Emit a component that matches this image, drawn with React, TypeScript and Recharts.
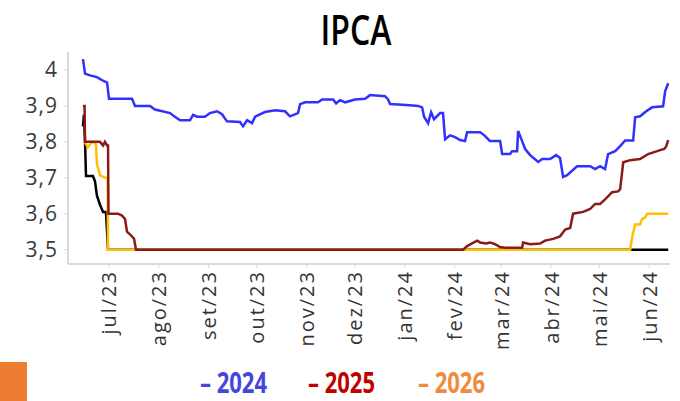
import { LineChart, Line, XAxis, YAxis } from 'recharts'

// x = days since 1 Jul 2023
const monthTicks = [0, 31, 62, 92, 123, 153, 184, 215, 244, 275, 305, 336]
const monthLabels = ['jul/23', 'ago/23', 'set/23', 'out/23', 'nov/23', 'dez/23', 'jan/24', 'fev/24', 'mar/24', 'abr/24', 'mai/24', 'jun/24']
const yTicks = [3.5, 3.6, 3.7, 3.8, 3.9, 4]

const ipca2024: [number, number][] = [
  [-16.2, 4.03], [-14.9, 3.99], [-11.8, 3.985], [-7.5, 3.98], [-3.7, 3.97], [-1.2, 3.965], [0, 3.92], [14.3, 3.92],
  [16.2, 3.9], [25.5, 3.9], [28.6, 3.89], [38, 3.88], [41, 3.87], [44.2, 3.86], [48.5, 3.86], [50.4, 3.86],
  [52.3, 3.875], [54.8, 3.87], [59.7, 3.87], [62.8, 3.88], [67.2, 3.885], [70.3, 3.877], [73.4, 3.857], [81.5, 3.855],
  [83.4, 3.843], [85.9, 3.86], [89, 3.852], [90.9, 3.87], [97, 3.883], [103.3, 3.888], [109.5, 3.885], [112.6, 3.871],
  [117.6, 3.88], [118.9, 3.905], [122, 3.91], [130, 3.91], [132.6, 3.918], [139.4, 3.918], [141.3, 3.907], [143.7, 3.916],
  [146.9, 3.91], [153, 3.918], [159.3, 3.92], [162.4, 3.93], [171.7, 3.927], [173.6, 3.918], [174.9, 3.905], [187.3, 3.902],
  [192.3, 3.9], [194.8, 3.896], [196, 3.87], [198.5, 3.852], [200.4, 3.882], [202.2, 3.863], [206, 3.88], [207.8, 3.88],
  [209.1, 3.807], [212.2, 3.818], [215.3, 3.813], [218.4, 3.805], [221.5, 3.802], [222.8, 3.827], [230.9, 3.827], [234, 3.816],
  [237, 3.802], [243.3, 3.802], [244.6, 3.766], [249.5, 3.766], [250.8, 3.774], [253.9, 3.774], [254.5, 3.83], [257, 3.802],
  [258.9, 3.78], [262, 3.763], [267, 3.744], [269.5, 3.752], [274.4, 3.752], [278.2, 3.763], [280.6, 3.755], [282.5, 3.702],
  [285, 3.707], [291.2, 3.732], [299.3, 3.732], [302.4, 3.724], [305.5, 3.732], [308.6, 3.724], [310.5, 3.766], [314.9, 3.774],
  [318, 3.788], [321.1, 3.804], [326.1, 3.804], [327.3, 3.868], [330.4, 3.871], [334.2, 3.885], [337.9, 3.896], [344.7, 3.899],
  [346, 3.941], [347.9, 3.963],
]

const ipca2025: [number, number][] = [
  [-16.2, 3.9], [-15.2, 3.9], [-14.9, 3.8], [-5.6, 3.8], [-3.7, 3.79], [-2.5, 3.8], [-1.2, 3.79], [-0.6, 3.79],
  [-0.3, 3.6], [5.6, 3.6], [8.1, 3.595], [10, 3.585], [11.2, 3.55], [13.7, 3.54], [15.6, 3.53], [16.8, 3.5],
  [220.3, 3.5], [222.8, 3.51], [229, 3.525], [230.9, 3.52], [234.6, 3.517], [237.1, 3.52], [240.2, 3.515], [243.3, 3.507],
  [246.4, 3.505], [257, 3.505], [257.6, 3.52], [262, 3.515], [268.2, 3.517], [271.3, 3.525], [276.3, 3.53], [280.6, 3.537],
  [283.8, 3.556], [286.9, 3.56], [288.7, 3.6], [295, 3.605], [299.3, 3.613], [302.4, 3.627], [305.5, 3.627], [308.6, 3.64],
  [313, 3.66], [316.7, 3.662], [318, 3.668], [319.9, 3.743], [324.2, 3.749], [330.4, 3.752], [335.4, 3.766], [342.9, 3.777],
  [345.4, 3.78], [346.6, 3.787], [347.9, 3.805],
]

const ipca2026: [number, number][] = [
  [-15.2, 3.8], [-13.1, 3.785], [-11.8, 3.793], [-10, 3.8], [-8.1, 3.793], [-7.5, 3.738], [-5.6, 3.707], [-2.5, 3.7],
  [-0.9, 3.7], [-0.6, 3.5], [324.2, 3.5], [325.5, 3.535], [327.3, 3.57], [330.4, 3.57], [331.6, 3.585], [333.6, 3.59],
  [334.8, 3.6], [347.9, 3.6],
]

const ipca2027: [number, number][] = [
  [-16.2, 3.843], [-15.6, 3.875], [-14.9, 3.8], [-14.3, 3.705], [-10, 3.705], [-8.7, 3.69], [-7.5, 3.65], [-5.6, 3.625],
  [-3.7, 3.605], [-1.9, 3.605], [-0.6, 3.5], [347.9, 3.5],
]

const legendItems = [
  { label: '2024', color: '#4646dc', x: 200 },
  { label: '2025', color: '#c00000', x: 308 },
  { label: '2026', color: '#f08a3c', x: 418 },
]

const font = '"Open Sans", sans-serif'
const rows = (pts: [number, number][]) => pts.map(([d, v]) => ({ d, v }))

function MonthTick({ x, y, payload }: any) {
  const label = monthLabels[monthTicks.indexOf(payload.value)]
  return (
    <text
      transform={`translate(${x},${y}) rotate(-90)`}
      textAnchor="end"
      dominantBaseline="central"
      fontSize={20}
      letterSpacing={2}
      fill="#333333"
      fontFamily={font}
    >
      {label}
    </text>
  )
}

export default function App() {
  return (
    <div style={{ position: 'absolute', left: 0, top: 0, width: 680, height: 401, background: '#fff' }}>
      <LineChart width={680} height={401} margin={{ top: 52, right: 10, bottom: 57, left: 0 }}>
        <XAxis
          type="number"
          dataKey="d"
          domain={[-25.5, 349]}
          ticks={monthTicks}
          interval={0}
          allowDataOverflow
          height={80}
          tickSize={4}
          tickMargin={2}
          axisLine={{ stroke: '#d9d9d9', strokeWidth: 2 }}
          tickLine={{ stroke: '#d9d9d9' }}
          tick={<MonthTick />}
        />
        <YAxis
          type="number"
          domain={[3.46, 4.05]}
          ticks={yTicks}
          interval={0}
          allowDataOverflow
          width={68}
          tickSize={4}
          tickMargin={6}
          axisLine={{ stroke: '#d9d9d9', strokeWidth: 2 }}
          tickLine={{ stroke: '#d9d9d9' }}
          tick={{ fontSize: 21, fill: '#3a3a3a', fontFamily: font, letterSpacing: 1 }}
          tickFormatter={(v: number) => String(v).replace('.', ',')}
        />
        <Line data={rows(ipca2027)} dataKey="v" type="linear" stroke="#000000" strokeWidth={2.5} dot={false} isAnimationActive={false} />
        <Line data={rows(ipca2026)} dataKey="v" type="linear" stroke="#ffc000" strokeWidth={2.5} dot={false} isAnimationActive={false} />
        <Line data={rows(ipca2025)} dataKey="v" type="linear" stroke="#8b1a1a" strokeWidth={2.5} dot={false} isAnimationActive={false} />
        <Line data={rows(ipca2024)} dataKey="v" type="linear" stroke="#3030ff" strokeWidth={2.5} dot={false} isAnimationActive={false} />
      </LineChart>
      <svg width={680} height={401} style={{ position: 'absolute', left: 0, top: 0, pointerEvents: 'none' }}>
        <text transform="translate(356,45) scale(1,1.27)" textAnchor="middle" fontSize={32} fontWeight={600} fontFamily={font} fill="#000">
          IPCA
        </text>
        {legendItems.map((it) => (
          <text key={it.label} transform={`translate(${it.x},393) scale(1,1.27)`} fontSize={22} fontWeight={700} fontFamily={font} fill={it.color}>
            {'– ' + it.label}
          </text>
        ))}
        <rect x={0} y={362} width={27} height={39} fill="#ed7d31" />
      </svg>
    </div>
  )
}
